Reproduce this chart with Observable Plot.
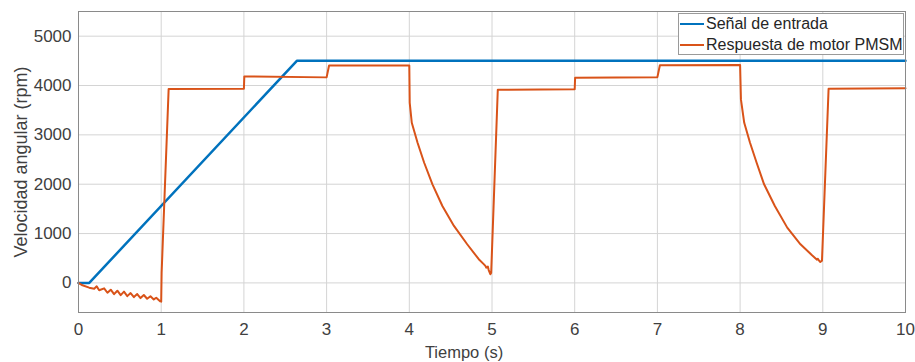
<!DOCTYPE html>
<html>
<head>
<meta charset="utf-8">
<script src="https://cdn.jsdelivr.net/npm/d3@7"></script>
<script src="https://cdn.jsdelivr.net/npm/@observablehq/plot@0.6"></script>
<style>
  html, body { margin: 0; padding: 0; background: #fff; }
  #wrap { position: relative; width: 915px; height: 362px; font-family: "Liberation Sans", Arial, sans-serif; }
  #legend { position: absolute; left: 678px; top: 13px; width: 226px; height: 42px; border: 1px solid #9a9a9a; background: #fff; box-sizing: border-box; font-size: 16px; color: #262626; }
  .item { position: absolute; left: 1px; height: 20px; display: flex; align-items: center; white-space: nowrap; }
  .sw { width: 24px; height: 0; border-top: 2.5px solid; margin-right: 2px; }
</style>
</head>
<body>
<div id="wrap"></div>
<script>
// ---- data ----
const xTicks = [0,1,2,3,4,5,6,7,8,9,10];
const yTicks = [0,1000,2000,3000,4000,5000];
const seriesNames = ["Señal de entrada", "Respuesta de motor PMSM"];
const xLabel = "Tiempo (s)";
const yLabel = "Velocidad angular (rpm)";

// Input signal (reference ramp)
const inputT = [0, 0.13, 2.64, 10];
const inputV = [0, 0, 4500, 4500];

// PMSM motor response
const motorT = [
  0, 0.048, 0.129, 0.19, 0.22, 0.25, 0.31, 0.35, 0.39, 0.43, 0.47, 0.51, 0.55, 0.59, 0.63, 0.67, 0.71, 0.75, 0.79, 0.83, 0.87, 0.91, 0.94, 0.99,
  1.0, 1.005, 1.09,
  2.0, 2.005, 3.0, 3.03, 4.0,
  4.005, 4.03, 4.10, 4.18, 4.28, 4.40, 4.54, 4.70, 4.84, 4.90, 4.92, 4.93, 4.95, 4.96, 4.98,
  4.99, 5.07,
  6.0, 6.005, 7.0, 7.03, 8.0,
  8.01, 8.05, 8.12, 8.20, 8.29, 8.42, 8.57, 8.73, 8.87, 8.91, 8.93, 8.94, 8.96, 8.97,
  8.99, 9.07, 10
];
const motorV = [
  0, -49, -97, -117, -70, -150, -110, -200, -138, -228, -158, -248, -178, -268, -206, -288, -226, -308, -246, -322, -272, -335, -300, -375,
  -380, 200, 3930,
  3935, 4185, 4165, 4405, 4405,
  3650, 3245, 2840, 2435, 1998, 1559, 1154, 783, 480, 380, 344, 310, 330, 260, 176,
  200, 3915,
  3925, 4155, 4170, 4410, 4415,
  3719, 3245, 2840, 2435, 1998, 1559, 1120, 783, 560, 500, 470, 490, 440, 425,
  450, 3935, 3945
];

const colors = ["#0072BD", "#D95319"];

const inputData = inputT.map((t, i) => ({t, v: inputV[i]}));
const motorData = motorT.map((t, i) => ({t, v: motorV[i]}));

const chart = Plot.plot({
  width: 915,
  height: 362,
  marginLeft: 78,
  marginRight: 10,
  marginTop: 11,
  marginBottom: 50,
  style: { fontFamily: "Liberation Sans, Arial, sans-serif", color: "#404040", background: "#fff" },
  x: { domain: [0, 10] },
  y: { domain: [-600, 5500] },
  marks: [
    Plot.gridX(xTicks, { stroke: "#d4d4d4", strokeOpacity: 1 }),
    Plot.gridY(yTicks, { stroke: "#d4d4d4", strokeOpacity: 1 }),
    Plot.axisX({ ticks: xTicks, tickFormat: d => String(d), tickSize: 0, tickPadding: 10, label: null, fontSize: 17 }),
    Plot.axisY({ ticks: yTicks, tickFormat: d => String(d), tickSize: 0, tickPadding: 7, label: null, fontSize: 17 }),
    Plot.line(inputData, { x: "t", y: "v", stroke: colors[0], strokeWidth: 2.5 }),
    Plot.line(motorData, { x: "t", y: "v", stroke: colors[1], strokeWidth: 2 }),
    Plot.frame({ stroke: "#8a8a8a" }),
    Plot.text([yLabel], { text: d => d, frameAnchor: "left", textAnchor: "middle", lineAnchor: "middle", rotate: -90, dx: -57, fontSize: 18, fill: "#404040" }),
    Plot.text([xLabel], { text: d => d, frameAnchor: "bottom", textAnchor: "middle", lineAnchor: "middle", dx: -28, dy: 40, fontSize: 16.5, fill: "#404040" })
  ]
});

const wrap = document.getElementById("wrap");
wrap.appendChild(chart);

const legend = document.createElement("div");
legend.id = "legend";
seriesNames.forEach((name, i) => {
  const item = document.createElement("div");
  item.className = "item";
  item.style.top = (i === 0 ? 0 : 21) + "px";
  const sw = document.createElement("span");
  sw.className = "sw";
  sw.style.borderTopColor = colors[i];
  const lab = document.createElement("span");
  lab.textContent = name;
  item.appendChild(sw);
  item.appendChild(lab);
  legend.appendChild(item);
});
wrap.appendChild(legend);
</script>
</body>
</html>
